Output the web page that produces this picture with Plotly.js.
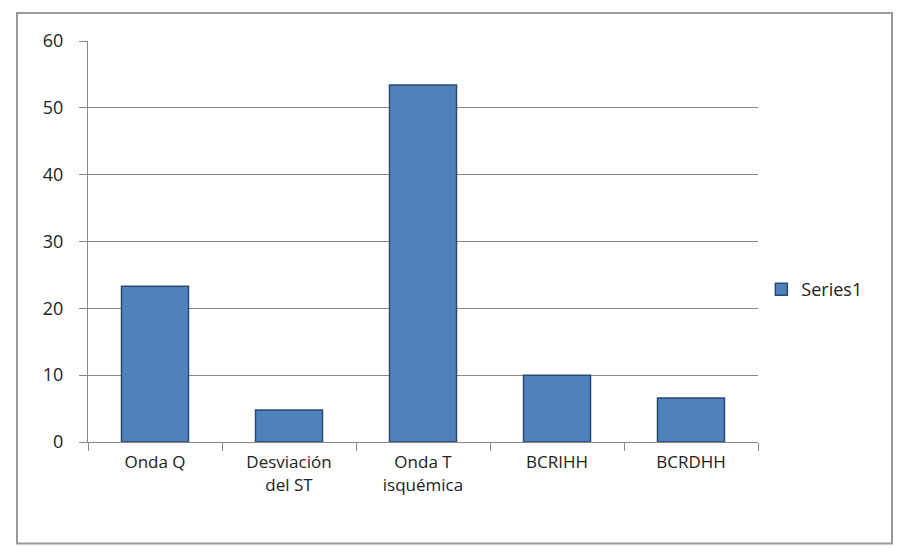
<!DOCTYPE html>
<html><head><meta charset="utf-8">
<script src="https://cdn.plot.ly/plotly-3.0.1.min.js"></script>
<style>html,body{margin:0;padding:0;background:#fff}#c{width:901px;height:549px}</style>
</head><body><div id="c"></div>
<script>
var categories = ["Onda Q", "Desviación<br>del ST", "Onda T<br>isquémica", "BCRIHH", "BCRDHH"];
var values = [23.3, 4.8, 53.4, 10.0, 6.6];
var seriesName = "Series1";
var yTicks = [0, 10, 20, 30, 40, 50, 60];

var trace = {
  type: 'bar', x: categories, y: values, name: seriesName,
  marker: {color: '#4f81bd', line: {color: '#2b4a72', width: 1.5}},
  width: 0.5, showlegend: true, hoverinfo: 'x+y'
};
var layout = {
  width: 901, height: 549,
  margin: {l: 88, r: 143, t: 41, b: 107},
  paper_bgcolor: '#fff', plot_bgcolor: '#fff',
  font: {family: 'Open Sans, Liberation Sans, sans-serif', size: 16, color: '#222'},
  xaxis: {type: 'category', tickson: 'boundaries', ticks: 'outside', ticklen: 8, tickcolor: '#888',
          showline: true, linecolor: '#888', linewidth: 1, showgrid: false,
          tickfont: {size: 17}, ticklabelstandoff: 5},
  yaxis: {range: [0, 60], tickvals: yTicks, ticks: 'outside', ticklen: 8, tickcolor: '#888',
          showline: true, linecolor: '#888', gridcolor: '#888', gridwidth: 1, zeroline: false,
          tickfont: {size: 18}, ticklabelstandoff: 12},
  legend: {x: 1.005, y: 0.38, xanchor: 'left', yanchor: 'middle', font: {size: 18}, bgcolor: 'rgba(0,0,0,0)'},
  shapes: [
    {type: 'rect', xref: 'paper', yref: 'paper', x0: -0.106, x1: 1.2, y0: -0.253, y1: 1.07,
     line: {color: '#999', width: 2}, fillcolor: 'rgba(0,0,0,0)', layer: 'below'}
  ]
};
Plotly.newPlot('c', [trace], layout, {displayModeBar: false, staticPlot: true});
</script></body></html>
